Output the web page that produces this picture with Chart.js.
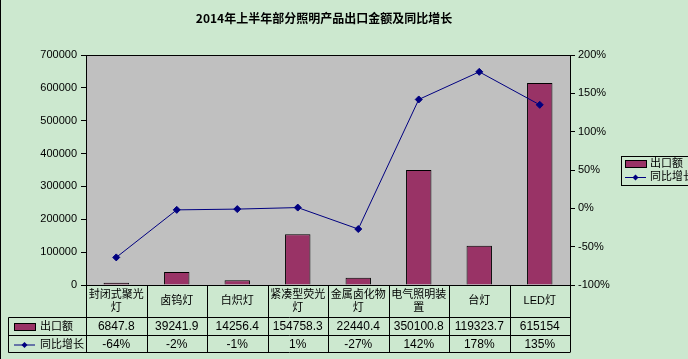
<!DOCTYPE html>
<html>
<head>
<meta charset="utf-8">
<script src="https://cdn.jsdelivr.net/npm/chart.js@4.4.0/dist/chart.umd.min.js"></script>
<style>
  html, body { margin: 0; padding: 0; background: #cce8cf; }
  canvas { display: block; }
</style>
</head>
<body>
<canvas id="c" width="688" height="359"></canvas>
<script>
const title = "2014年上半年部分照明产品出口金额及同比增长";
const categories = [["封闭式聚光", "灯"], ["卤钨灯"], ["白炽灯"], ["紧凑型荧光", "灯"], ["金属卤化物", "灯"], ["电气照明装", "置"], ["台灯"], ["LED灯"]];
const exportValues = [6847.8, 39241.9, 14256.4, 154758.3, 22440.4, 350100.8, 119323.7, 615154];
const growthValues = [-64, -2, -1, 1, -27, 142, 178, 135];
const seriesNames = ["出口额", "同比增长"];

const BAR_COLOR = "#993366";
const LINE_COLOR = "#000080";
const BG = "#cce8cf";
const LATIN = "'Liberation Sans', Arial, sans-serif";
const CJK = "'Liberation Sans', 'Noto Sans CJK SC', sans-serif";

function drawDiamond(ctx, x, y, r) {
  ctx.beginPath();
  ctx.moveTo(x, y - r); ctx.lineTo(x + r, y); ctx.lineTo(x, y + r); ctx.lineTo(x - r, y);
  ctx.closePath(); ctx.fill();
}

const decor = {
  id: "decor",
  beforeDraw(chart) {
    const ctx = chart.ctx, a = chart.chartArea;
    ctx.save();
    ctx.fillStyle = BG;
    ctx.fillRect(0, 0, chart.width, chart.height);
    ctx.fillStyle = "#c0c0c0";
    ctx.fillRect(a.left, a.top, a.right - a.left, a.bottom - a.top);
    ctx.restore();
  },
  afterDraw(chart) {
    const ctx = chart.ctx, a = chart.chartArea, xs = chart.scales.x;
    ctx.save();
    ctx.strokeStyle = "#000";
    ctx.lineWidth = 1;
    ctx.beginPath(); ctx.moveTo(0.5, 0); ctx.lineTo(0.5, chart.height); ctx.stroke();
    ctx.strokeRect(Math.round(a.left) + 0.5, Math.round(a.top) + 0.5, Math.round(a.right - a.left), Math.round(a.bottom - a.top));
    ctx.fillStyle = "#000";
    ctx.font = "bold 12px 'Noto Sans CJK SC', sans-serif";
    ctx.textAlign = "center"; ctx.textBaseline = "middle";
    ctx.fillText(title, (a.left + a.right) / 2 - 4, 18);

    const n = categories.length;
    const w = (a.right - a.left) / n;
    const top = Math.round(a.bottom);
    const r1 = top + 32, r2 = r1 + 18, r3 = r2 + 17;
    const tableLeft = 8.5;
    ctx.strokeStyle = "#000"; ctx.lineWidth = 1;
    ctx.beginPath();
    for (let i = 0; i <= n; i++) {
      const x = Math.round(xs.getPixelForValue(i) - w / 2) + 0.5;
      ctx.moveTo(x, top); ctx.lineTo(x, r3);
    }
    [r1, r2, r3].forEach(y => { ctx.moveTo(tableLeft, y + 0.5); ctx.lineTo(Math.round(a.right) + 0.5, y + 0.5); });
    ctx.moveTo(tableLeft, r1 + 0.5); ctx.lineTo(tableLeft, r3 + 0.5);
    ctx.stroke();

    ctx.fillStyle = "#000";
    ctx.textAlign = "center"; ctx.textBaseline = "middle";
    for (let i = 0; i < n; i++) {
      const cx = xs.getPixelForValue(i);
      const lines = categories[i];
      ctx.font = "11px " + CJK;
      if (lines.length === 2) {
        ctx.fillText(lines[0], cx, top + 10);
        ctx.fillText(lines[1], cx, top + 23);
      } else {
        ctx.fillText(lines[0], cx, top + 16);
      }
      ctx.font = "12px " + LATIN;
      ctx.fillText(String(exportValues[i]), cx, (r1 + r2) / 2 + 1);
      ctx.fillText(growthValues[i] + "%", cx, (r2 + r3) / 2 + 1);
    }
    ctx.font = "11px " + CJK;
    ctx.textAlign = "left";
    const ky1 = (r1 + r2) / 2 + 1, ky2 = (r2 + r3) / 2 + 1;
    ctx.fillStyle = BAR_COLOR;
    ctx.fillRect(14, ky1 - 3, 21, 6);
    ctx.strokeStyle = "#000"; ctx.strokeRect(14.5, ky1 - 3.5, 21, 7);
    ctx.fillStyle = "#000";
    ctx.fillText(seriesNames[0], 40, ky1);
    ctx.strokeStyle = LINE_COLOR; ctx.fillStyle = LINE_COLOR;
    ctx.beginPath(); ctx.moveTo(14, ky2 + 0.5); ctx.lineTo(35, ky2 + 0.5); ctx.stroke();
    drawDiamond(ctx, 24.5, ky2 + 0.5, 3);
    ctx.fillStyle = "#000";
    ctx.fillText(seriesNames[1], 40, ky2);

    ctx.strokeStyle = "#000";
    ctx.strokeRect(621.5, 156.5, 80, 29);
    ctx.fillStyle = BAR_COLOR;
    ctx.fillRect(625, 161, 21, 6);
    ctx.strokeRect(625.5, 160.5, 21, 7);
    ctx.fillStyle = "#000";
    ctx.fillText(seriesNames[0], 650, 164);
    ctx.strokeStyle = LINE_COLOR; ctx.fillStyle = LINE_COLOR;
    ctx.beginPath(); ctx.moveTo(625, 177.5); ctx.lineTo(646, 177.5); ctx.stroke();
    drawDiamond(ctx, 635.5, 177.5, 3);
    ctx.fillStyle = "#000";
    ctx.fillText(seriesNames[1], 650, 177);
    ctx.restore();
  }
};

new Chart(document.getElementById("c"), {
  data: {
    labels: categories.map(c => c.join("")),
    datasets: [
      {
        type: "line", label: seriesNames[1], data: growthValues, yAxisID: "y1",
        borderColor: LINE_COLOR, backgroundColor: LINE_COLOR, borderWidth: 1,
        pointStyle: "rectRot", pointRadius: 3.5, pointHoverRadius: 3.5, tension: 0, order: 0
      },
      {
        type: "bar", label: seriesNames[0], data: exportValues, yAxisID: "y",
        backgroundColor: BAR_COLOR, borderColor: "#000", borderWidth: 1,
        barPercentage: 0.42, categoryPercentage: 1, order: 1
      }
    ]
  },
  options: {
    responsive: false, animation: false, devicePixelRatio: 1,
    layout: { padding: { left: 0, right: 68, top: 55, bottom: 74 } },
    plugins: { legend: { display: false }, title: { display: false }, tooltip: { enabled: false } },
    scales: {
      x: {
        type: "category", offset: true,
        ticks: { display: false },
        grid: { display: false, drawTicks: false },
        border: { display: false }
      },
      y: {
        position: "left", min: 0, max: 700000,
        afterFit(s) { s.width = 86; },
        ticks: { stepSize: 100000, color: "#000", font: { family: LATIN, size: 11 }, padding: 4, callback: v => String(v) },
        grid: { drawOnChartArea: false, drawTicks: true, tickLength: 5, color: "#000" },
        border: { display: true, color: "#000" }
      },
      y1: {
        position: "right", min: -100, max: 200,
        afterFit(s) { s.width = 50; },
        ticks: { stepSize: 50, color: "#000", font: { family: LATIN, size: 11 }, padding: 3, callback: v => v + "%" },
        grid: { drawOnChartArea: false, drawTicks: true, tickLength: 5, color: "#000" },
        border: { display: true, color: "#000" }
      }
    }
  },
  plugins: [decor]
});
</script>
</body>
</html>
